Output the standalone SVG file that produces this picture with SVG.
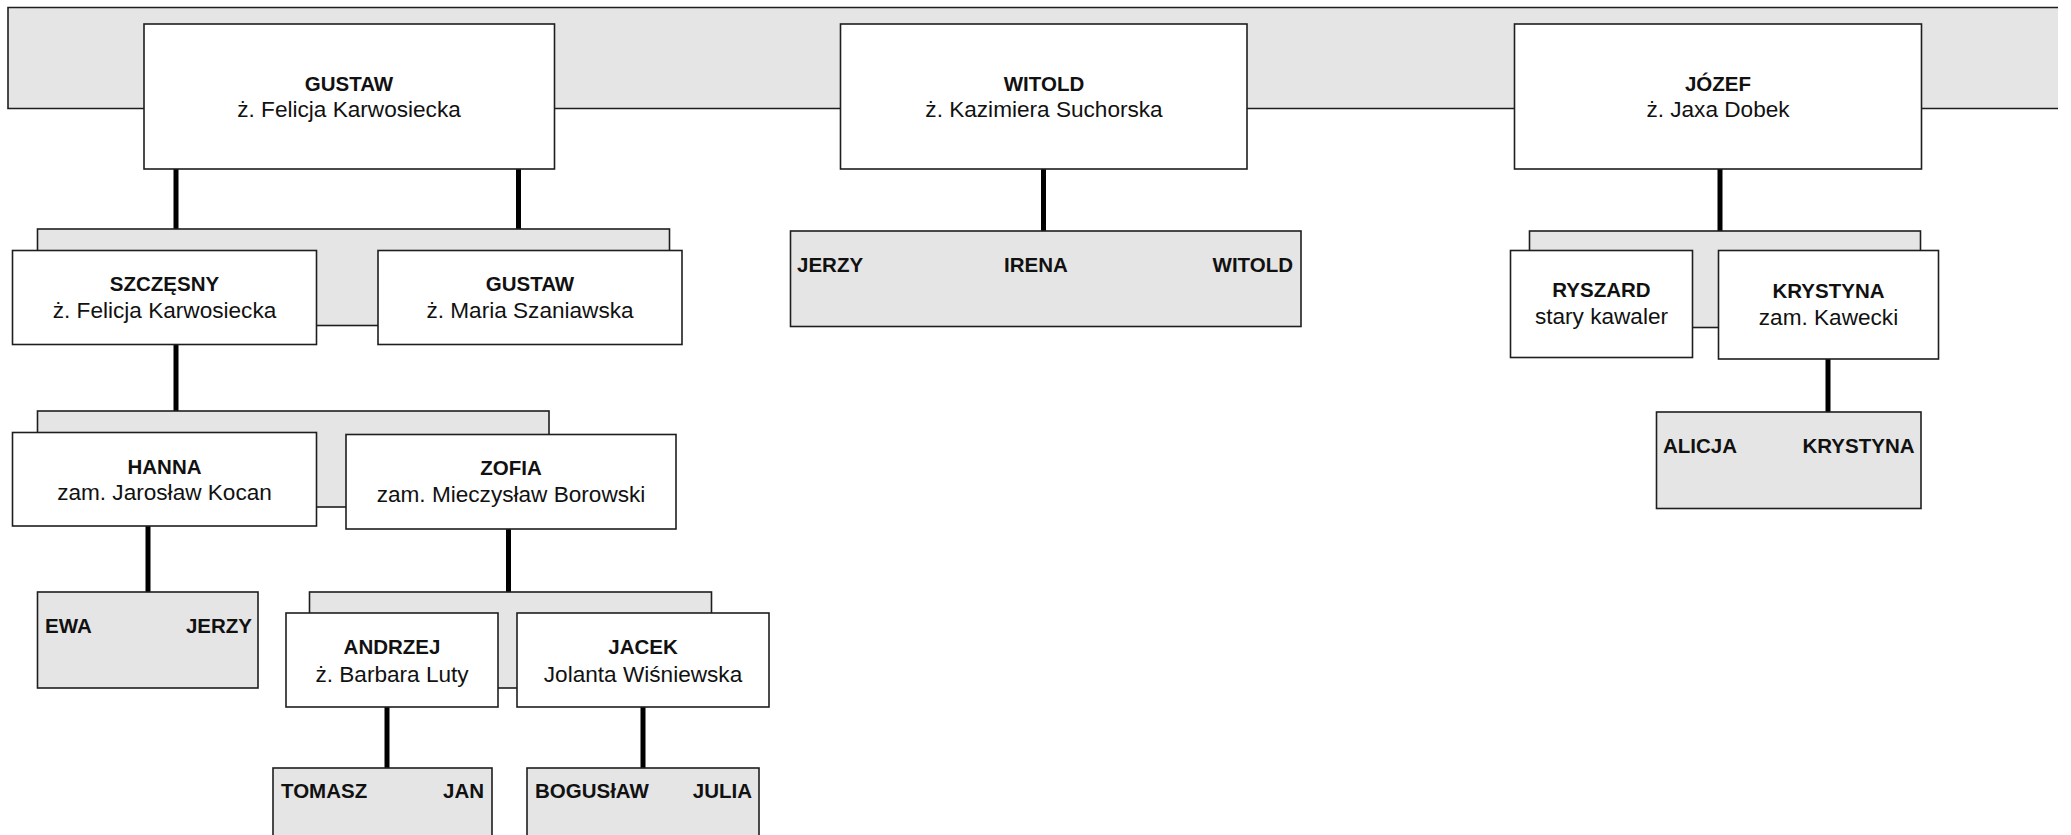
<svg xmlns="http://www.w3.org/2000/svg" width="2071" height="835" viewBox="0 0 2071 835">
<style>
.band{fill:#e5e5e5;stroke:#1e1e1e;stroke-width:1.6}
.box{fill:#ffffff;stroke:#1e1e1e;stroke-width:1.6}
.b{font-family:"Liberation Sans",Arial,sans-serif;font-weight:bold;font-size:20.5px;fill:#111}
.r{font-family:"Liberation Sans",Arial,sans-serif;font-size:22.6px;fill:#111}
.m{text-anchor:middle}
.e{text-anchor:end}
.c{stroke:#000;stroke-width:5;fill:none}
</style>
<rect width="2071" height="835" fill="#ffffff"/>
<g id="top-band">
<rect x="8" y="7.5" width="2050" height="101" fill="#e5e5e5"/>
<path d="M2058,7.5 H8 V108.5 H2058" fill="none" stroke="#1e1e1e" stroke-width="1.6"/>
</g>
<g id="connectors">
<path class="c" d="M176,169 V229 M518.5,169 V229 M176,344 V411 M148,526 V592 M508.5,529 V592 M387,707 V768 M643,707 V768 M1043.5,169 V231 M1720,169 V231 M1828,359 V412"/>
</g>
<g id="band-gustaw-children"><rect class="band" x="37.5" y="229" width="632" height="96.5"/></g>
<g id="band-szczesny-children"><rect class="band" x="37.5" y="411" width="511.5" height="96"/></g>
<g id="band-zofia-children"><rect class="band" x="309.5" y="592" width="402" height="96"/></g>
<g id="band-jozef-children"><rect class="band" x="1529.5" y="231" width="391" height="96.5"/></g>
<g id="gustaw">
<rect class="box" x="144" y="24" width="410.5" height="145"/>
<text class="b m" x="349" y="90.5">GUSTAW</text>
<text class="r m" x="349" y="117">ż. Felicja Karwosiecka</text>
</g>
<g id="witold">
<rect class="box" x="840.5" y="24" width="406.5" height="145"/>
<text class="b m" x="1044" y="90.5">WITOLD</text>
<text class="r m" x="1044" y="117">ż. Kazimiera Suchorska</text>
</g>
<g id="jozef">
<rect class="box" x="1514.5" y="24" width="407" height="145"/>
<text class="b m" x="1718" y="90.5">JÓZEF</text>
<text class="r m" x="1718" y="117">ż. Jaxa Dobek</text>
</g>
<g id="szczesny">
<rect class="box" x="12.5" y="250.5" width="304" height="94"/>
<text class="b m" x="164.5" y="291">SZCZĘSNY</text>
<text class="r m" x="164.5" y="318">ż. Felicja Karwosiecka</text>
</g>
<g id="gustaw-2">
<rect class="box" x="378" y="250.5" width="304" height="94"/>
<text class="b m" x="530" y="291">GUSTAW</text>
<text class="r m" x="530" y="318">ż. Maria Szaniawska</text>
</g>
<g id="hanna">
<rect class="box" x="12.5" y="432.5" width="304" height="93.5"/>
<text class="b m" x="164.5" y="473.5">HANNA</text>
<text class="r m" x="164.5" y="500">zam. Jarosław Kocan</text>
</g>
<g id="zofia">
<rect class="box" x="346" y="434.5" width="330" height="94.5"/>
<text class="b m" x="511" y="475">ZOFIA</text>
<text class="r m" x="511" y="501.5">zam. Mieczysław Borowski</text>
</g>
<g id="andrzej">
<rect class="box" x="286" y="613" width="212" height="94"/>
<text class="b m" x="392" y="654">ANDRZEJ</text>
<text class="r m" x="392" y="682">ż. Barbara Luty</text>
</g>
<g id="jacek">
<rect class="box" x="517" y="613" width="252" height="94"/>
<text class="b m" x="643" y="654">JACEK</text>
<text class="r m" x="643" y="682">Jolanta Wiśniewska</text>
</g>
<g id="ryszard">
<rect class="box" x="1510.5" y="250.5" width="182" height="107"/>
<text class="b m" x="1601.5" y="297">RYSZARD</text>
<text class="r m" x="1601.5" y="323.5">stary kawaler</text>
</g>
<g id="krystyna">
<rect class="box" x="1718.5" y="250.5" width="220" height="108.5"/>
<text class="b m" x="1828.5" y="298">KRYSTYNA</text>
<text class="r m" x="1828.5" y="324.5">zam. Kawecki</text>
</g>
<g id="hanna-children">
<rect class="band" x="37.5" y="592" width="220.5" height="96"/>
<text class="b" x="45" y="632.5">EWA</text>
<text class="b e" x="252" y="632.5">JERZY</text>
</g>
<g id="witold-children">
<rect class="band" x="790.5" y="231" width="510.5" height="95.5"/>
<text class="b" x="797" y="272">JERZY</text>
<text class="b m" x="1036" y="272">IRENA</text>
<text class="b e" x="1293" y="272">WITOLD</text>
</g>
<g id="krystyna-children">
<rect class="band" x="1656.5" y="412" width="264.5" height="96.5"/>
<text class="b" x="1663" y="452.5">ALICJA</text>
<text class="b e" x="1914.5" y="452.5">KRYSTYNA</text>
</g>
<g id="andrzej-children">
<rect class="band" x="273" y="768" width="219" height="100"/>
<text class="b" x="281" y="798">TOMASZ</text>
<text class="b e" x="484" y="798">JAN</text>
</g>
<g id="jacek-children">
<rect class="band" x="527" y="768" width="232" height="100"/>
<text class="b" x="535" y="798">BOGUSłAW</text>
<text class="b e" x="752" y="798">JULIA</text>
</g>
</svg>
